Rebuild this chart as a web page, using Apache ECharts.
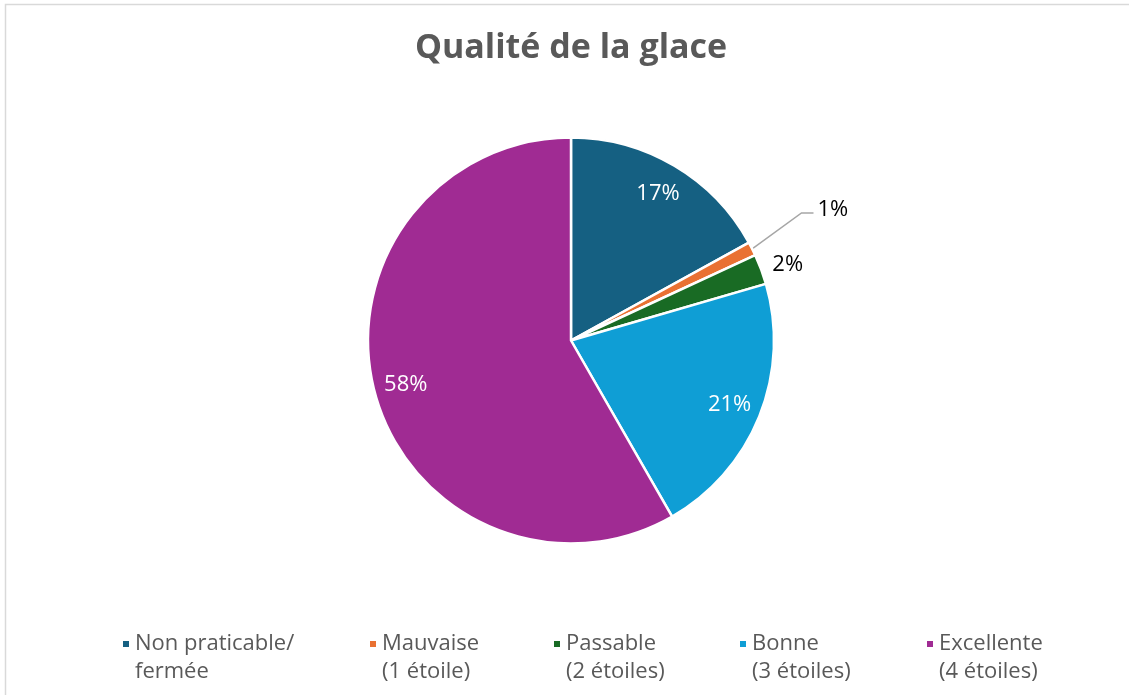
<!DOCTYPE html>
<html>
<head>
<meta charset="utf-8">
<script src="https://cdn.jsdelivr.net/npm/echarts@6/dist/echarts.min.js"></script>
<style>html,body{margin:0;padding:0;background:#fff;}#c{width:1129px;height:695px;}</style>
</head>
<body>
<div id="c"></div>
<script>
const TITLE = 'Qualité de la glace';
const categories = ['Non praticable/\nfermée', 'Mauvaise\n(1 étoile)', 'Passable\n(2 étoiles)', 'Bonne\n(3 étoiles)', 'Excellente\n(4 étoiles)'];
const values = [17.0, 1.1, 2.4, 21.2, 58.3];
const colors = ['#156082', '#E97132', '#196B24', '#0F9ED5', '#A02B93'];
const legendLefts = [121, 368, 552, 738, 925];

const CENTER = [571, 340.5];
const R = 203;
const FONT = 'Open Sans';
const pct = v => Math.round(v) + '%';

const mainData = categories.map((name, i) => {
  const v = values[i];
  const inside = v >= 5;
  const withLine = v < 2;
  return {
    name, value: v,
    itemStyle: { color: colors[i] },
    label: inside ? { show: false } : {
      show: true, position: 'outside', color: '#000', fontSize: 22, fontFamily: FONT,
      distanceToLabelLine: withLine ? 4 : 0,
      formatter: p => pct(p.value)
    },
    labelLine: withLine ? { show: true, length: 62, length2: 6, lineStyle: { color: '#a6a6a6', width: 1.5 } }
                        : { show: false, length: 12, length2: 0 }
  };
});

const overlayData = categories.map((name, i) => {
  const v = values[i];
  return {
    name, value: v,
    itemStyle: { color: 'rgba(0,0,0,0)', borderWidth: 0 },
    label: { show: v >= 5 }
  };
});

const chart = echarts.init(document.getElementById('c'), null, { renderer: 'canvas' });
chart.setOption({
  animation: false,
  backgroundColor: '#fff',
  color: colors,
  graphic: [
    { type: 'rect', shape: { x: 5.5, y: 4.5, width: 1200, height: 800 }, style: { fill: 'none', stroke: '#d9d9d9', lineWidth: 1.5 }, silent: true },
    { type: 'text', x: 571, y: 48, style: { text: TITLE, align: 'center', verticalAlign: 'middle', fill: '#595959', font: 'bold 34px "Open Sans"' }, silent: true }
  ],
  legend: categories.map((name, i) => ({
    data: [name],
    left: legendLefts[i],
    top: 602,
    padding: 0,
    icon: 'rect',
    itemWidth: 8,
    itemHeight: 8,
    selectedMode: false,
    formatter: n => '\n' + n,
    textStyle: { color: '#595959', fontSize: 22, fontFamily: FONT, lineHeight: 28 }
  })),
  series: [
    {
      type: 'pie',
      center: CENTER,
      radius: [0, R],
      startAngle: 90,
      clockwise: true,
      avoidLabelOverlap: false,
      silent: true,
      itemStyle: { borderColor: '#fff', borderWidth: 2.5 },
      labelLayout: function (p) {
        if (values[p.dataIndex] < 2 && p.labelLinePoints) {
          const pts = p.labelLinePoints;
          const d = -8;
          return {
            dy: d - 3,
            labelLinePoints: [pts[0], [pts[1][0] - 6, pts[1][1] + d], [pts[2][0], pts[2][1] + d]]
          };
        }
        return {};
      },
      data: mainData
    },
    {
      type: 'pie',
      center: CENTER,
      radius: [0, 168 * 2],
      startAngle: 90,
      clockwise: true,
      avoidLabelOverlap: false,
      silent: true,
      z: 3,
      label: { position: 'inside', color: '#fff', fontSize: 22, fontFamily: FONT, formatter: p => pct(p.value) },
      labelLine: { show: false },
      data: overlayData
    }
  ]
});
</script>
</body>
</html>
